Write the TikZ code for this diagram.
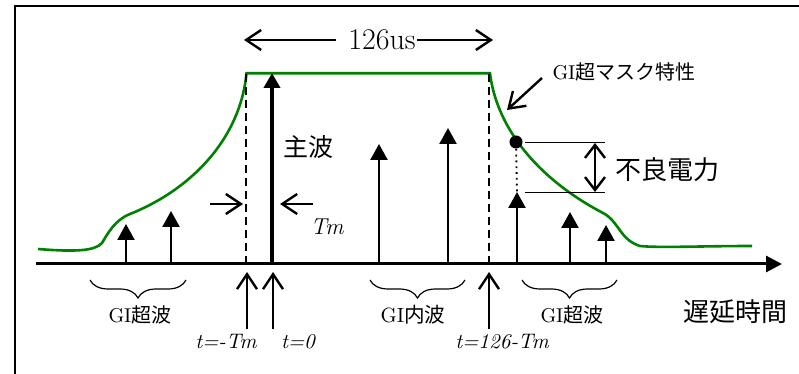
\documentclass[tikz,border=0pt]{standalone}
\usepackage{fontspec}
\newfontfamily\jpfont{Noto Sans CJK JP}
\usetikzlibrary{arrows.meta,decorations.pathreplacing}
\newcommand{\jtext}[1]{{\jpfont #1}}

\tikzset{
  axisline/.style={line width=1.5pt, -{Triangle[length=8pt,width=8pt]}},
  smallwave/.style={line width=1.2pt, -{Triangle[length=8pt,width=8.5pt]}},
  mainwave/.style={line width=2.4pt, -{Triangle[length=7.5pt,width=8pt]}},
  barb/.style={line width=1.2pt, -{Straight Barb[length=7.5pt,width=10pt]}},
  maskline/.style={line width=1.3pt, green!50!black},
  gapline/.style={line width=1pt, dash pattern=on 4pt off 2.5pt},
  gibrace/.style={decorate, decoration={brace, mirror, amplitude=9pt}, line width=0.6pt},
}

\begin{document}
\begin{tikzpicture}[x=0.5pt,y=-0.5pt]
        \useasboundingbox (0,0) rectangle (799,374);

        % Frame
        \draw[line width=1pt] (15,374) -- (15,6) -- (799,6);

        % Time axis
        \coordinate (o) at (36,264);
        \coordinate (tend) at (782,264);
        \draw[axisline] (o) -- (tend);

        % GI mask characteristic
        \draw[maskline] (38,249) .. controls (75,252) and (95,251) .. (102,243)
            .. controls (108,233) and (115,220) .. (130,214)
            .. controls (190,190) and (240,140) .. (246.5,73.3)
            -- (490,73.3)
            .. controls (497,130) and (540,180) .. (603,213)
            .. controls (619,221.4) and (620,240) .. (640,246)
            .. controls (660,248) and (700,246) .. (752,246);

        % Guard interval edges
        \coordinate (g1) at (246,264);
        \coordinate (g1t) at (246,73);
        \coordinate (g2) at (489,264);
        \coordinate (g2t) at (489,73);
        \draw[gapline] (g1) -- (g1t);
        \draw[gapline] (g2) -- (g2t);

        % Main wave
        \coordinate (m0) at (272,264);
        \coordinate (m1) at (272,73);
        \draw[mainwave] (m0) -- (m1);
        \node[font=\jpfont\fontsize{12.5}{14}\selectfont, inner sep=0] (main) at (308,147) {主波};

        % Delayed waves
        \foreach \x/\h [count=\i] in {126/224, 171/211, 379/144, 448/128, 517/192, 570/212, 606/225} {
            \coordinate (p\i) at (\x,264);
            \coordinate (q\i) at (\x,\h);
            \draw[smallwave] (p\i) -- (q\i);
        }

        % Tm offset
        \coordinate (a1) at (210,204);
        \coordinate (a2) at (243,204);
        \coordinate (b1) at (313,204);
        \coordinate (b2) at (280,204);
        \draw[barb] (a1) -- (a2);
        \draw[barb] (b1) -- (b2);
        \node[font=\fontsize{11.5}{13}\selectfont\itshape, inner sep=0] (tm) at (327,227) {Tm};

        % 126us width
        \node[font=\fontsize{15}{17}\selectfont, inner sep=0] (dur) at (382,40) {126us};
        \coordinate (d1) at (336,40);
        \coordinate (d2) at (244,40);
        \coordinate (d3) at (417,40);
        \coordinate (d4) at (493,40);
        \draw[barb] (d1) -- (d2);
        \draw[barb] (d3) -- (d4);

        % Mask label
        \node[font=\fontsize{10}{12}\selectfont, inner sep=0] (mask) at (624,72) {GI\jtext{超マスク特性}};
        \coordinate (k1) at (542,78);
        \coordinate (k2) at (507,110);
        \draw[barb] (k1) -- (k2);

        % Interference power
        \node[circle, fill, inner sep=2.3pt] (dot) at (516,142) {};
        \draw[line width=0.9pt, dotted] (dot) -- (q5);
        \coordinate (h1) at (525,142.7);
        \coordinate (h2) at (605,142.7);
        \coordinate (h3) at (525,192.3);
        \coordinate (h4) at (605,192.3);
        \draw[line width=0.6pt] (h1) -- (h2);
        \draw[line width=0.6pt] (h3) -- (h4);
        \coordinate (v1) at (595,143);
        \coordinate (v2) at (595,192);
        \draw[barb, {Straight Barb[length=6.5pt,width=10pt]}-{Straight Barb[length=6.5pt,width=10pt]}] (v1) -- (v2);
        \node[font=\jpfont\fontsize{13}{15}\selectfont, inner sep=0] (loss) at (667,170) {不良電力};

        % Braces
        \coordinate (c1) at (90,280);
        \coordinate (c2) at (186,280);
        \coordinate (c3) at (370,280);
        \coordinate (c4) at (465,280);
        \coordinate (c5) at (522,280);
        \coordinate (c6) at (617,280);
        \draw[gibrace] (c1) -- (c2);
        \draw[gibrace] (c3) -- (c4);
        \draw[gibrace] (c5) -- (c6);
        \node[font=\fontsize{10}{12}\selectfont, inner sep=0] (pre) at (140,315) {GI\jtext{超波}};
        \node[font=\fontsize{10.3}{12}\selectfont, inner sep=0] (inner) at (413,315) {GI\jtext{内波}};
        \node[font=\fontsize{10}{12}\selectfont, inner sep=0] (post) at (572,315) {GI\jtext{超波}};
        \node[font=\jpfont\fontsize{13}{15}\selectfont, inner sep=0] (delay) at (735,312) {遅延時間};

        % Time marks
        \coordinate (s1) at (247,329);
        \coordinate (s1t) at (247,272);
        \coordinate (s2) at (273,329);
        \coordinate (s2t) at (273,272);
        \coordinate (s3) at (489,329);
        \coordinate (s3t) at (489,272);
        \draw[barb] (s1) -- (s1t);
        \draw[barb] (s2) -- (s2t);
        \draw[barb] (s3) -- (s3t);
        \node[font=\fontsize{10.5}{12}\selectfont\itshape, inner sep=0] (tneg) at (226,342) {t=-Tm};
        \node[font=\fontsize{10.5}{12}\selectfont\itshape, inner sep=0] (tzero) at (298,342) {t=0};
        \node[font=\fontsize{10.5}{12}\selectfont\itshape, inner sep=0] (tend2) at (502,342) {t=126-Tm};
\end{tikzpicture}
\end{document}
